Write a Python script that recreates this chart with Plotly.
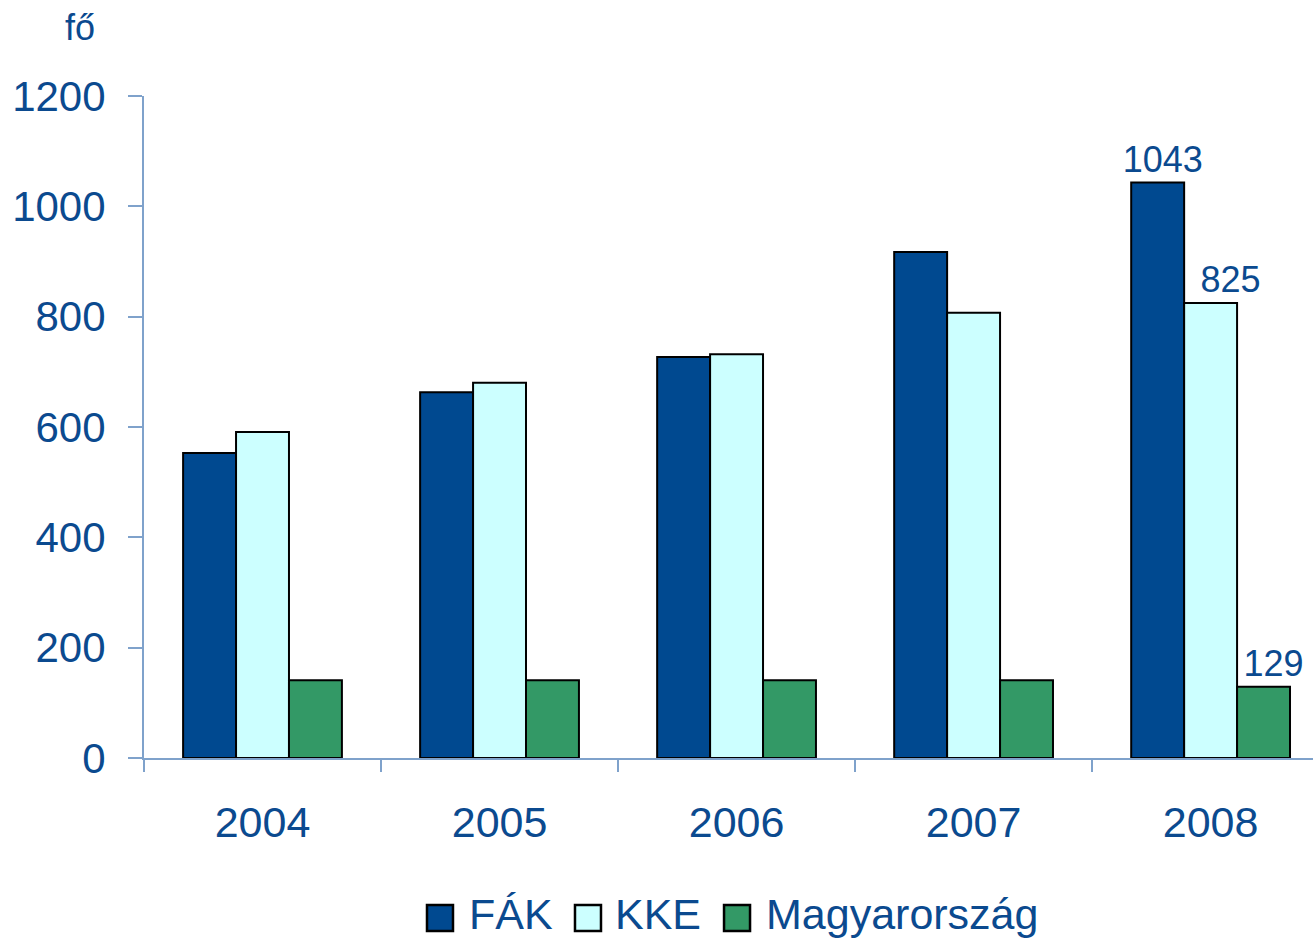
import plotly.graph_objects as go

years = ["2004", "2005", "2006", "2007", "2008"]
fak = [553, 663, 727, 917, 1043]
kke = [591, 680, 732, 807, 825]
magyar = [141, 141, 141, 141, 129]
series_names = ["FÁK", "KKE", "Magyarország"]
colors = ["#004990", "#CCFFFF", "#339966"]
label_years = ["2008"]
y_ticks = [0, 200, 400, 600, 800, 1000, 1200]

TEXT = "#0B4A8F"
AXIS = "#7FA2CB"
FONT = "Liberation Sans, Arial, sans-serif"
NBSP = "\u00a0"
label_pad = [1, 4, 2]  # leading non-breaking spaces nudging each label right

# legend layout (paper coords): key centers and text starts
legend_key_x = [0.2532, 0.3798, 0.5073]
legend_text_x = [0.2767, 0.4016, 0.5305]
legend_key_y = -0.2417
legend_text_y = -0.2362

fig = go.Figure()
for name, vals, col, pad in zip(series_names, [fak, kke, magyar], colors, label_pad):
    texts = [NBSP * pad + str(v) if y in label_years else "" for y, v in zip(years, vals)]
    fig.add_trace(go.Bar(
        x=years, y=vals, name=name, showlegend=False,
        marker=dict(color=col, line=dict(color="black", width=2)),
        text=texts, textposition="outside", cliponaxis=False,
        constraintext="none",
        textfont=dict(size=36, color=TEXT, family=FONT),
    ))

for name, col, kx, tx in zip(series_names, colors, legend_key_x, legend_text_x):
    fig.add_shape(type="rect", xref="paper", yref="paper",
                  xsizemode="pixel", ysizemode="pixel",
                  xanchor=kx, yanchor=legend_key_y, x0=-13, x1=13, y0=-13, y1=13,
                  fillcolor=col, line=dict(color="black", width=2.5))
    fig.add_annotation(text=name, xref="paper", yref="paper", x=tx, y=legend_text_y,
                       xanchor="left", yanchor="middle", showarrow=False,
                       font=dict(size=43, color=TEXT, family=FONT))

fig.update_layout(
    width=1313, height=939,
    margin=dict(l=144, r=0, t=96, b=181),
    paper_bgcolor="white", plot_bgcolor="white",
    barmode="group", bargap=0.33, bargroupgap=0,
    font=dict(family=FONT, color=TEXT, size=42),
    showlegend=False,
)
fig.update_xaxes(
    range=[-0.5, 4.432], showline=True, linecolor=AXIS, linewidth=2,
    ticks="outside", tickson="boundaries", ticklen=12, tickcolor=AXIS, tickwidth=2,
    tickfont=dict(size=43, color=TEXT), showgrid=False, zeroline=False,
    ticklabelstandoff=25, automargin=False,
)
fig.update_yaxes(
    range=[0, 1200], tickvals=y_ticks, showline=True, linecolor=AXIS, linewidth=2,
    ticks="outside", ticklen=14, tickcolor=AXIS, tickwidth=2,
    tickfont=dict(size=42, color=TEXT), showgrid=False, zeroline=False,
    ticklabelstandoff=14, automargin=False,
)
fig.add_annotation(text="fő", xref="paper", yref="paper", x=-0.055, y=1.104,
                   xanchor="center", yanchor="middle", showarrow=False,
                   font=dict(size=36, color=TEXT, family=FONT))
fig.write_html("out.html", config={"displayModeBar": False},
               post_script="document.body.style.margin='0px';")
